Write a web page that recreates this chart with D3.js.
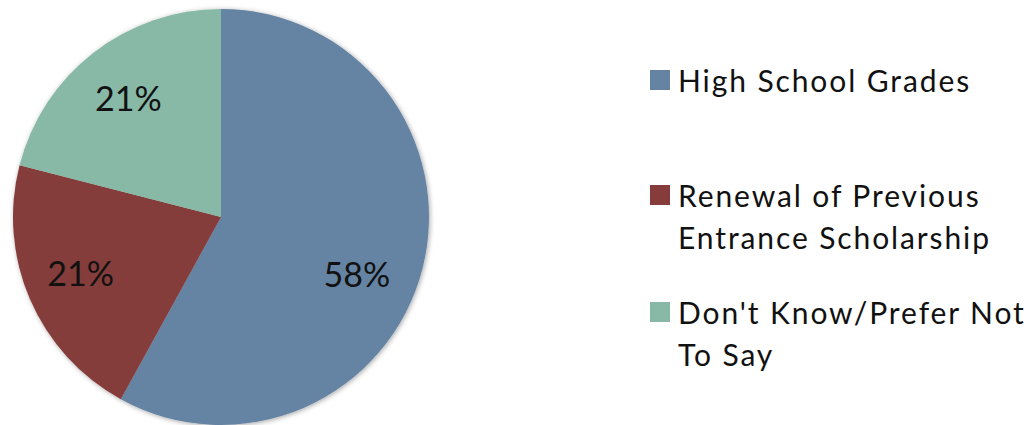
<!DOCTYPE html>
<html><head><meta charset="utf-8">
<script src="https://cdn.jsdelivr.net/npm/d3@7"></script>
<style>body{margin:0;background:#fff}svg{display:block}</style>
</head><body><svg id="c" width="1035" height="425"></svg>
<script>
const categories = ["High School Grades", "Renewal of Previous Entrance Scholarship", "Don't Know/Prefer Not To Say"];
const values = [58, 21, 21];
const legendLines = [["High School Grades"], ["Renewal of Previous", "Entrance Scholarship"], ["Don't Know/Prefer Not", "To Say"]];
const colors = ["#6584A3", "#853C3B", "#88B8A6"];

const svg = d3.select("#c");
const font = "Lato, 'Open Sans', sans-serif";
const cx = 221, cy = 217, R = 208;

const defs = svg.append("defs");
const f = defs.append("filter").attr("id","sh").attr("x","-10%").attr("y","-10%").attr("width","120%").attr("height","120%");
f.append("feDropShadow").attr("dx",1).attr("dy",1).attr("stdDeviation",2.5).attr("flood-color","#000").attr("flood-opacity",0.35);

const pie = d3.pie().sort(null).value(d => d)(values);
const arc = d3.arc().innerRadius(0).outerRadius(R);
const g = svg.append("g").attr("transform", `translate(${cx},${cy})`);
const pg = g.append("g").attr("filter","url(#sh)");
pg.selectAll("path").data(pie).join("path")
  .attr("d", arc).attr("fill", (d,i) => colors[i]);

const angleAdjust = [0.14, 0.03, 0];
g.selectAll("text").data(pie).join("text")
  .attr("transform", (d,i) => {
    const a = (d.startAngle + d.endAngle)/2 + angleAdjust[i];
    const r = i === 0 ? 147 : 151;
    return `translate(${r*Math.sin(a)},${-r*Math.cos(a)})`;
  })
  .attr("text-anchor","middle").attr("dominant-baseline","central")
  .attr("font-family", font).attr("font-size", 34).attr("fill","#111")
  .text(d => Math.round(d.data) + "%");

const legY = [70, 185, 302];
const leg = svg.append("g");
legendLines.forEach((lines, i) => {
  leg.append("rect").attr("x", 650).attr("y", legY[i]).attr("width", 20).attr("height", 20).attr("fill", colors[i]);
  lines.forEach((t, j) => {
    leg.append("text").attr("x", 678).attr("y", legY[i] + 22 + j*42)
      .attr("font-family", font).attr("font-size", 30).attr("letter-spacing", 1.9)
      .attr("fill","#111").text(t);
  });
});
</script></body></html>
